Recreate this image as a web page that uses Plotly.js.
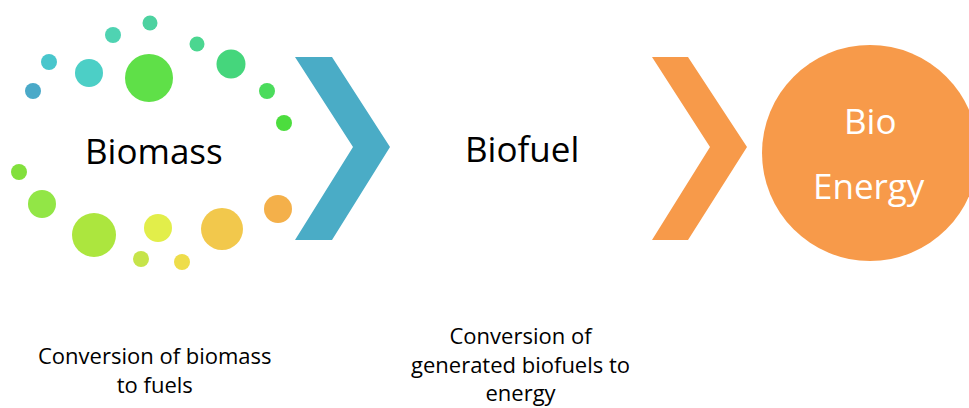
<!DOCTYPE html>
<html>
<head>
<meta charset="utf-8">
<script src="https://cdn.plot.ly/plotly-3.0.1.min.js"></script>
<style>html,body{margin:0;padding:0;background:#fff;overflow:hidden}</style>
</head>
<body>
<div id="chart" style="width:969px;height:408px"></div>
<script>
// Decorative dots around "Biomass"
var dotX = [150, 113, 197, 49, 89, 149, 231, 33, 267, 284, 19, 42, 94, 158, 141, 182, 222, 278];
var dotY = [23, 35, 44, 62, 73, 78, 64, 91, 91, 123, 172, 204, 235, 228, 259, 262, 229, 209];
var dotD = [15, 16, 15, 16, 28, 48, 29, 16, 16, 16, 16, 28, 44, 28, 16, 16, 42, 28];
var dotColors = ['#4dd2a0', '#4fd3b2', '#4bd690', '#48c6cc', '#4ccfc6', '#5fe048', '#45d67c', '#4aa9c8',
                 '#4bdc5c', '#4cdd3e', '#82e03c', '#92e646', '#ace63e', '#e2ee4a', '#c6e44a', '#eedd4a',
                 '#f2c84c', '#f4b04a'];

// Chevrons
var chevron1X = [295, 332, 390, 332, 295, 353, 295];
var chevron1Y = [57, 57, 147, 240, 240, 147, 57];
var chevron2X = [652, 688, 747, 688, 652, 710, 652];
var chevron2Y = [57, 57, 147, 240, 240, 147, 57];

// Energy circle
var energyX = [870];
var energyY = [153];
var energyD = [216];

// Labels
var labels = ['Biomass', 'Biofuel', 'Bio', 'Energy'];
var captions = ['Conversion of biomass<br>to fuels', 'Conversion of<br>generated biofuels to<br>energy'];

var FONT = '"Open Sans", sans-serif';

var traces = [
  {x: chevron1X, y: chevron1Y, mode: 'lines', fill: 'toself', fillcolor: '#4aacc6',
   line: {width: 0, color: '#4aacc6'}, hoverinfo: 'skip', showlegend: false},
  {x: chevron2X, y: chevron2Y, mode: 'lines', fill: 'toself', fillcolor: '#f79a4a',
   line: {width: 0, color: '#f79a4a'}, hoverinfo: 'skip', showlegend: false},
  {x: dotX, y: dotY, mode: 'markers', showlegend: false, hoverinfo: 'skip',
   marker: {size: dotD, color: dotColors, opacity: 1, line: {width: 0}}},
  {x: energyX, y: energyY, mode: 'markers', showlegend: false, hoverinfo: 'skip',
   marker: {size: energyD, color: '#f79a4a', opacity: 1, line: {width: 0}}}
];

var annotations = [
  {x: 154, y: 150, text: labels[0], font: {size: 35, color: '#000', family: FONT}},
  {x: 522, y: 148, text: labels[1], font: {size: 35, color: '#000', family: FONT}},
  {x: 870, y: 120, text: labels[2], font: {size: 35, color: '#fff', family: FONT}},
  {x: 869, y: 185, text: labels[3], font: {size: 35, color: '#fff', family: FONT}},
  {x: 155, y: 369, text: captions[0], font: {size: 22, color: '#000', family: FONT}},
  {x: 520, y: 363, text: captions[1], font: {size: 22, color: '#000', family: FONT}}
].map(function(a){
  return Object.assign({xref: 'x', yref: 'y', showarrow: false, xanchor: 'center', yanchor: 'middle', align: 'center'}, a);
});

var layout = {
  width: 969, height: 408,
  margin: {l: 0, r: 0, t: 0, b: 0},
  paper_bgcolor: '#fff', plot_bgcolor: '#fff',
  xaxis: {range: [0, 969], visible: false, fixedrange: true},
  yaxis: {range: [408, 0], visible: false, fixedrange: true},
  annotations: annotations,
  showlegend: false
};

Plotly.newPlot('chart', traces, layout, {displayModeBar: false, staticPlot: true});
</script>
</body>
</html>
